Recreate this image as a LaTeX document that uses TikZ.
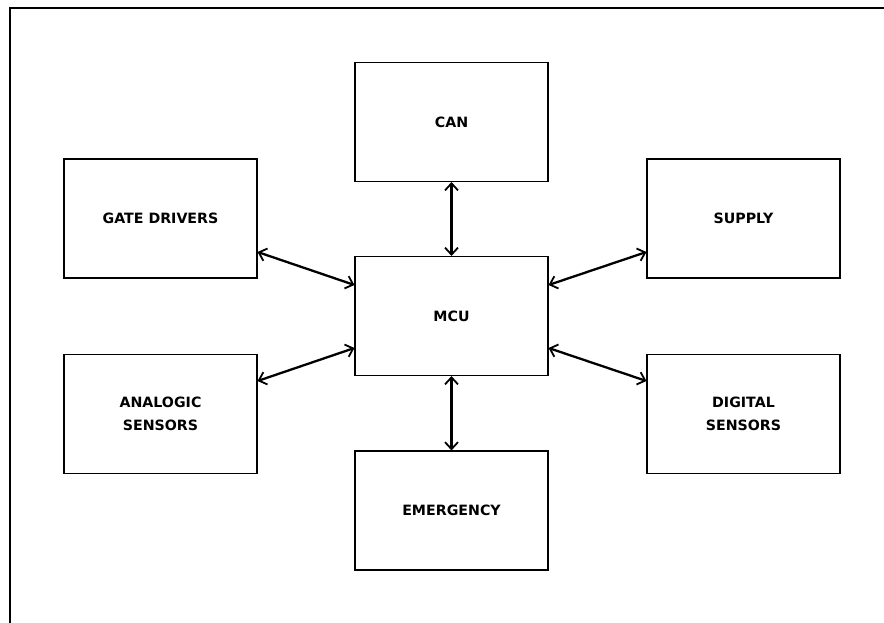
\documentclass[tikz,border=0pt]{standalone}
\usepackage{fontspec}
\setmainfont{DejaVu Sans}
\usetikzlibrary{arrows.meta}
\begin{document}
\begin{tikzpicture}[x=1pt,y=-1pt,
  blockbox/.style={draw=black,line width=1.1pt,minimum width=193pt,minimum height=119pt,
    font=\fontsize{14.2}{22.5}\selectfont\bfseries,align=center,inner sep=0pt},
  link/.style={line width=2.3pt,{Straight Barb[length=7pt,width=13pt,line width=1.8pt]}-{Straight Barb[length=7pt,width=13pt,line width=1.8pt]}}]
\useasboundingbox (0,0) rectangle (884,623);
\clip (0,0) rectangle (884,623);
\fill[white] (0,0) rectangle (884,623);
\draw[line width=2pt] (9.5,8) rectangle (900,640);
\node[blockbox] (can) at (451.5,122) {CAN};
\node[blockbox] (gate) at (160.5,218.5) {GATE DRIVERS};
\node[blockbox] (supply) at (743.5,218.5) {SUPPLY};
\node[blockbox] (mcu) at (451.5,316) {MCU};
\node[blockbox] (analog) at (160.5,414) {ANALOGIC\\SENSORS};
\node[blockbox] (digital) at (743.5,414) {DIGITAL\\SENSORS};
\node[blockbox] (emerg) at (451.5,510.5) {EMERGENCY};
\draw[link] (gate.east |- 0,252) -- (mcu.west |- 0,285);
\draw[link] (analog.east |- 0,381) -- (mcu.west |- 0,348);
\draw[link] (supply.west |- 0,252) -- (mcu.east |- 0,285);
\draw[link] (digital.west |- 0,381) -- (mcu.east |- 0,348);
\draw[link] (can.south) -- (mcu.north);
\draw[link] (mcu.south) -- (emerg.north);
\end{tikzpicture}
\end{document}
